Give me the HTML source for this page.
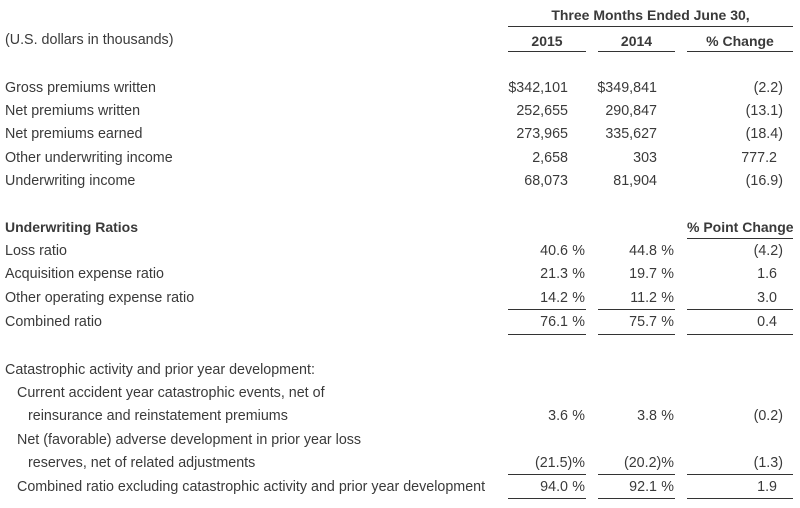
<!DOCTYPE html>
<html>
<head>
<meta charset="utf-8">
<style>
  html, body { margin:0; padding:0; }
  body { width:800px; height:508px; background:#fff; position:relative; overflow:hidden;
         font-family:"Liberation Sans", Arial, sans-serif; font-size:14.3px; color:#3a3a3a; }
  .t { position:absolute; height:20px; line-height:20px; white-space:nowrap; margin-top:1px; }
  .b { font-weight:bold; font-size:14px; }
  .r { text-align:right; }
  .c { text-align:center; }
  .ln { position:absolute; height:1px; background:#333; }
</style>
</head>
<body>
<!-- header -->
<div class="t b c" style="left:508px;width:285px;top:4px;">Three Months Ended June 30,</div>
<div class="ln" style="left:508px;width:285px;top:26px;"></div>
<div class="t" style="left:5px;top:29px;">(U.S. dollars in thousands)</div>
<div class="t b c" style="left:508px;width:78px;top:30px;">2015</div>
<div class="t b c" style="left:598px;width:77px;top:30px;">2014</div>
<div class="t b c" style="left:687px;width:106px;top:30px;">% Change</div>
<div class="ln" style="left:508px;width:78px;top:51px;"></div>
<div class="ln" style="left:598px;width:77px;top:51px;"></div>
<div class="ln" style="left:687px;width:106px;top:51px;"></div>

<!-- section 1 -->
<div class="t" style="left:5px;top:77px;">Gross premiums written</div>
<div class="t r" style="left:488px;width:80px;top:77px;">$342,101</div>
<div class="t r" style="left:577px;width:80px;top:77px;">$349,841</div>
<div class="t r" style="left:683px;width:100px;top:77px;">(2.2)</div>

<div class="t" style="left:5px;top:100px;">Net premiums written</div>
<div class="t r" style="left:488px;width:80px;top:100px;">252,655</div>
<div class="t r" style="left:577px;width:80px;top:100px;">290,847</div>
<div class="t r" style="left:683px;width:100px;top:100px;">(13.1)</div>

<div class="t" style="left:5px;top:123px;">Net premiums earned</div>
<div class="t r" style="left:488px;width:80px;top:123px;">273,965</div>
<div class="t r" style="left:577px;width:80px;top:123px;">335,627</div>
<div class="t r" style="left:683px;width:100px;top:123px;">(18.4)</div>

<div class="t" style="left:5px;top:147px;">Other underwriting income</div>
<div class="t r" style="left:488px;width:80px;top:147px;">2,658</div>
<div class="t r" style="left:577px;width:80px;top:147px;">303</div>
<div class="t r" style="left:677px;width:100px;top:147px;">777.2</div>

<div class="t" style="left:5px;top:170px;">Underwriting income</div>
<div class="t r" style="left:488px;width:80px;top:170px;">68,073</div>
<div class="t r" style="left:577px;width:80px;top:170px;">81,904</div>
<div class="t r" style="left:683px;width:100px;top:170px;">(16.9)</div>

<!-- section 2 -->
<div class="t b" style="left:5px;top:216px;">Underwriting Ratios</div>
<div class="t b c" style="left:687px;width:106px;top:216px;">% Point Change</div>
<div class="ln" style="left:687px;width:106px;top:238px;"></div>

<div class="t" style="left:5px;top:240px;">Loss ratio</div>
<div class="t r" style="left:488px;width:80px;top:240px;">40.6</div><div class="t r" style="left:565px;width:20px;top:240px;">%</div>
<div class="t r" style="left:577px;width:80px;top:240px;">44.8</div><div class="t r" style="left:654px;width:20px;top:240px;">%</div>
<div class="t r" style="left:683px;width:100px;top:240px;">(4.2)</div>

<div class="t" style="left:5px;top:263px;">Acquisition expense ratio</div>
<div class="t r" style="left:488px;width:80px;top:263px;">21.3</div><div class="t r" style="left:565px;width:20px;top:263px;">%</div>
<div class="t r" style="left:577px;width:80px;top:263px;">19.7</div><div class="t r" style="left:654px;width:20px;top:263px;">%</div>
<div class="t r" style="left:677px;width:100px;top:263px;">1.6</div>

<div class="t" style="left:5px;top:287px;">Other operating expense ratio</div>
<div class="t r" style="left:488px;width:80px;top:287px;">14.2</div><div class="t r" style="left:565px;width:20px;top:287px;">%</div>
<div class="t r" style="left:577px;width:80px;top:287px;">11.2</div><div class="t r" style="left:654px;width:20px;top:287px;">%</div>
<div class="t r" style="left:677px;width:100px;top:287px;">3.0</div>
<div class="ln" style="left:508px;width:78px;top:309px;"></div>
<div class="ln" style="left:598px;width:77px;top:309px;"></div>
<div class="ln" style="left:687px;width:106px;top:309px;"></div>

<div class="t" style="left:5px;top:311px;">Combined ratio</div>
<div class="t r" style="left:488px;width:80px;top:311px;">76.1</div><div class="t r" style="left:565px;width:20px;top:311px;">%</div>
<div class="t r" style="left:577px;width:80px;top:311px;">75.7</div><div class="t r" style="left:654px;width:20px;top:311px;">%</div>
<div class="t r" style="left:677px;width:100px;top:311px;">0.4</div>
<div class="ln" style="left:508px;width:78px;top:334px;"></div>
<div class="ln" style="left:598px;width:77px;top:334px;"></div>
<div class="ln" style="left:687px;width:106px;top:334px;"></div>

<!-- section 3 -->
<div class="t" style="left:5px;top:359px;">Catastrophic activity and prior year development:</div>
<div class="t" style="left:17px;top:382px;">Current accident year catastrophic events, net of</div>
<div class="t" style="left:28px;top:405px;">reinsurance and reinstatement premiums</div>
<div class="t r" style="left:488px;width:80px;top:405px;">3.6</div><div class="t r" style="left:565px;width:20px;top:405px;">%</div>
<div class="t r" style="left:577px;width:80px;top:405px;">3.8</div><div class="t r" style="left:654px;width:20px;top:405px;">%</div>
<div class="t r" style="left:683px;width:100px;top:405px;">(0.2)</div>

<div class="t" style="left:17px;top:429px;">Net (favorable) adverse development in prior year loss</div>
<div class="t" style="left:28px;top:452px;">reserves, net of related adjustments</div>
<div class="t r" style="left:485px;width:100px;top:452px;">(21.5)%</div>
<div class="t r" style="left:574px;width:100px;top:452px;">(20.2)%</div>
<div class="t r" style="left:683px;width:100px;top:452px;">(1.3)</div>
<div class="ln" style="left:508px;width:78px;top:474px;"></div>
<div class="ln" style="left:598px;width:77px;top:474px;"></div>
<div class="ln" style="left:687px;width:106px;top:474px;"></div>

<div class="t" style="left:17px;top:476px;">Combined ratio excluding catastrophic activity and prior year development</div>
<div class="t r" style="left:488px;width:80px;top:476px;">94.0</div><div class="t r" style="left:565px;width:20px;top:476px;">%</div>
<div class="t r" style="left:577px;width:80px;top:476px;">92.1</div><div class="t r" style="left:654px;width:20px;top:476px;">%</div>
<div class="t r" style="left:677px;width:100px;top:476px;">1.9</div>
<div class="ln" style="left:508px;width:78px;top:498px;"></div>
<div class="ln" style="left:598px;width:77px;top:498px;"></div>
<div class="ln" style="left:687px;width:106px;top:498px;"></div>
</body>
</html>
